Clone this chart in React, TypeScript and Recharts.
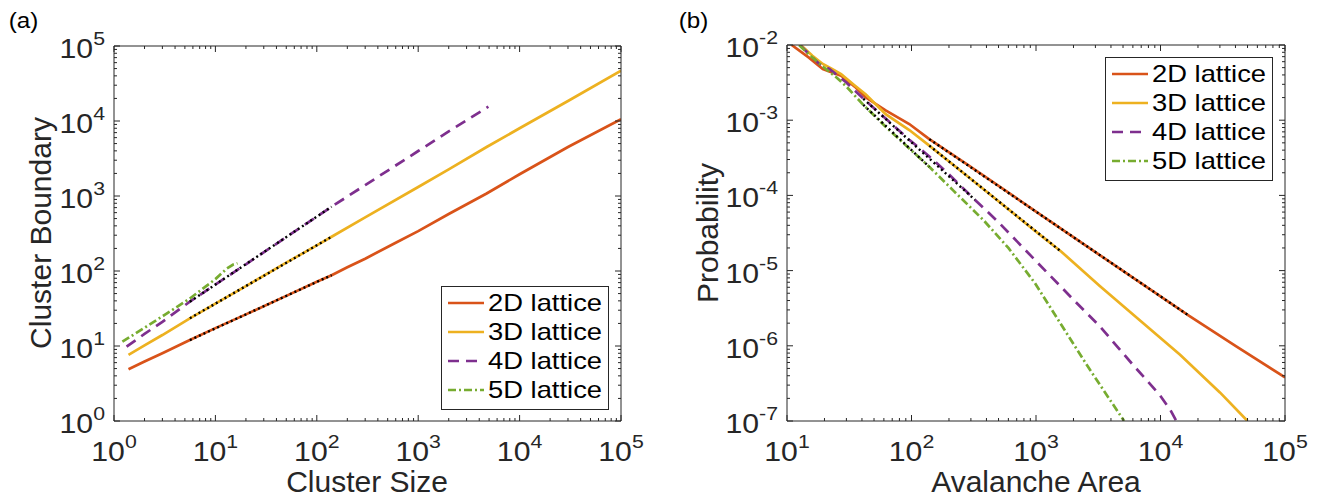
import { LineChart, Line, XAxis, YAxis, Legend } from "recharts";

const FONT = '"Liberation Sans", Arial, Helvetica, sans-serif';
const AXIS = "#262626";

const LABELS = ["2D lattice", "3D lattice", "4D lattice", "5D lattice"];
const COLORS = ["#D95319", "#EDB120", "#7E2F8E", "#77AC30"];
const DASHES = ["", "", "11 7", "8 3 2 3"];

// (a) cluster boundary vs cluster size
const sizes2D = [1.39, 2, 3, 5.6, 10, 20, 50, 100, 140, 200, 300, 600, 1000, 2000, 4730, 10000, 30000, 100000];
const boundary2D = [4.9, 6.2, 8.0, 12, 17.3, 26.4, 46.6, 72, 88, 112, 146, 238, 340, 575, 1080, 1950, 4500, 10600];
const sizes3D = [1.39, 2, 3, 5.6, 10, 20, 50, 100, 140, 300, 1000, 2000, 4730, 10000, 30000, 100000];
const boundary3D = [7.6, 10.2, 14, 23.4, 36.8, 63, 129, 220, 286, 518, 1320, 2270, 4500, 8000, 18500, 46800];
const sizes4D = [1.33, 2, 3, 5.6, 10, 20, 50, 100, 140, 300, 1000, 2000, 4920];
const boundary4D = [9.8, 14.5, 21, 39, 66, 123, 283, 530, 720, 1397, 3980, 7270, 15500];
const sizes5D = [1.21, 2, 3.16, 5.6, 10, 13, 15, 16.5];
const boundary5D = [11.4, 17.5, 26, 43, 78, 108, 122, 127];

// power-law fits (black dotted)
const fitSizesA = [5.6, 140];
const fit2DA = [12, 88];
const fit3DA = [23.4, 286];
const fit4DA = [39, 720];

// (b) avalanche area distribution
const area2D = [10.9, 15, 19.4, 23, 27.2, 35, 43, 62, 96, 139, 274, 1000, 3000, 10000, 17000, 40000, 100000];
const prob2D = [1e-2, 6.8e-3, 4.8e-3, 4.3e-3, 3.9e-3, 2.8e-3, 2.0e-3, 1.35e-3, 8.9e-4, 5.6e-4, 2.65e-4, 6.1e-5, 1.76e-5, 4.55e-6, 2.5e-6, 1.0e-6, 3.8e-7];
const area3D = [12.9, 16, 19.4, 23, 27.2, 35, 43, 62, 96, 139, 300, 1000, 1600, 3270, 7000, 14360, 30000, 50000];
const prob3D = [1e-2, 7.2e-3, 5.6e-3, 4.8e-3, 4.1e-3, 2.9e-3, 2.2e-3, 1.2e-3, 7.4e-4, 4.6e-4, 1.65e-4, 3.3e-5, 1.78e-5, 6.2e-6, 2.1e-6, 7.6e-7, 2.4e-7, 1e-7];
const area4D = [12.7, 15, 18.2, 21.9, 29.8, 43, 62, 96, 139, 200, 324, 500, 982, 2000, 3270, 6000, 9900, 12000, 13400];
const prob4D = [1e-2, 7.6e-3, 5.6e-3, 4.8e-3, 3.2e-3, 1.8e-3, 1.05e-3, 5.5e-4, 3.3e-4, 1.9e-4, 8.7e-5, 4.4e-5, 1.38e-5, 4.1e-6, 1.8e-6, 5.6e-7, 2.2e-7, 1.4e-7, 1e-7];
const area5D = [12.5, 15, 19.6, 25, 30, 41, 62, 96, 139, 218, 378, 600, 982, 1762, 2500, 3470, 5100];
const prob5D = [1e-2, 7.5e-3, 5.1e-3, 3.7e-3, 2.8e-3, 1.6e-3, 8.2e-4, 4.2e-4, 2.4e-4, 1.15e-4, 4.7e-5, 2.0e-5, 6.8e-6, 1.47e-6, 5.9e-7, 2.6e-7, 1e-7];

const fitArea2DB = [139, 17000];
const fit2DB = [5.6e-4, 2.5e-6];
const fitArea3DB = [139, 1600];
const fit3DB = [4.6e-4, 1.78e-5];
const fitArea4DB = [41, 324];
const fit4DB = [1.93e-3, 8.7e-5];
const fitArea5DB = [41, 139];
const fit5DB = [1.6e-3, 2.4e-4];

const TICKS_A = [1, 10, 100, 1000, 10000, 100000];
const TICKS_AREA = [10, 100, 1000, 10000, 100000];
const TICKS_PROB = [1e-7, 1e-6, 1e-5, 1e-4, 1e-3, 1e-2];

const pairs = (xs: number[], ys: number[]) => xs.map((x, i) => ({ x, y: ys[i] }));

function withMinor(majors: number[]) {
  const out: number[] = [];
  majors.forEach((m, i) => {
    out.push(m);
    if (i < majors.length - 1) for (let k = 2; k <= 9; k++) out.push(m * k);
  });
  return out;
}

// "10" with superscript exponent, slightly widened like the source figure
function PowerLabel({ x, y, p, anchor }: { x: number; y: number; p: number; anchor: string }) {
  return (
    <g transform={`translate(${x},${y}) scale(1.12,1)`}>
      <text x={0} y={0} textAnchor={anchor} fontSize={27} fill={AXIS} fontFamily={FONT}>
        10<tspan dy={-13} fontSize={19}>{p}</tspan>
      </text>
    </g>
  );
}

function makeTick(side: string, showLabel: boolean) {
  return function Tick(props: any) {
    const { x, y, payload } = props;
    const v = Number(payload.value);
    const p = Math.round(Math.log10(v));
    const major = Math.abs(Math.log10(v) - p) < 1e-6;
    const len = major ? 6 : 3;
    let line;
    if (side === "bottom") line = <line x1={x} x2={x} y1={y} y2={y - len} />;
    else if (side === "top") line = <line x1={x} x2={x} y1={y} y2={y + len} />;
    else if (side === "left") line = <line x1={x} x2={x + len} y1={y} y2={y} />;
    else line = <line x1={x} x2={x - len} y1={y} y2={y} />;
    let label = null;
    if (showLabel && major) {
      label =
        side === "bottom" ? (
          <PowerLabel x={x} y={y + 40} p={p} anchor="middle" />
        ) : (
          <PowerLabel x={x - 9} y={y + 12} p={p} anchor="end" />
        );
    }
    return (
      <g>
        <g stroke={AXIS} strokeWidth={1}>{line}</g>
        {label}
      </g>
    );
  };
}

function LatticeLegend() {
  return (
    <div
      style={{
        border: `1px solid ${AXIS}`,
        background: "#fff",
        padding: "1px 0 5px 6px",
        width: 160,
        fontFamily: FONT,
      }}
    >
      {LABELS.map((name, i) => (
        <div key={name} style={{ display: "flex", alignItems: "center", height: 29 }}>
          <svg width={36} height={10}>
            <line x1={0} x2={36} y1={5} y2={5} stroke={COLORS[i]} strokeWidth={2.7} strokeDasharray={DASHES[i] || undefined} />
          </svg>
          <span
            style={{
              display: "inline-block",
              fontSize: 24,
              marginLeft: 4,
              color: "#000",
              lineHeight: "29px",
              transform: "scaleX(1.14)",
              transformOrigin: "left center",
              whiteSpace: "nowrap",
            }}
          >
            {name}
          </span>
        </div>
      ))}
    </div>
  );
}

function axes(xTicks: number[], xDomain: number[], yTicks: number[], yDomain: number[]) {
  const xt = withMinor(xTicks);
  const yt = withMinor(yTicks);
  const common = { type: "number" as const, scale: "log" as const, allowDataOverflow: true, interval: 0 as const, tickLine: false, tickSize: 0, tickMargin: 0, axisLine: { stroke: AXIS, strokeWidth: 1 } };
  return [
    <XAxis key="xb" dataKey="x" domain={xDomain} ticks={xt} tick={makeTick("bottom", true)} height={1} {...common} />,
    <XAxis key="xt" xAxisId="top" orientation="top" dataKey="x" domain={xDomain} ticks={xt} tick={makeTick("top", false)} height={1} {...common} />,
    <YAxis key="yl" dataKey="y" domain={yDomain} ticks={yt} tick={makeTick("left", true)} width={1} {...common} />,
    <YAxis key="yr" yAxisId="right" orientation="right" dataKey="y" domain={yDomain} ticks={yt} tick={makeTick("right", false)} width={1} {...common} />,
  ];
}

const fitStyle = { stroke: "#000", strokeWidth: 2.4, strokeDasharray: "2 3", dot: false, isAnimationActive: false, legendType: "none" as const };

export default function App() {
  const seriesA = [pairs(sizes2D, boundary2D), pairs(sizes3D, boundary3D), pairs(sizes4D, boundary4D), pairs(sizes5D, boundary5D)];
  const seriesB = [pairs(area2D, prob2D), pairs(area3D, prob3D), pairs(area4D, prob4D), pairs(area5D, prob5D)];
  return (
    <div style={{ position: "absolute", left: 0, top: 0, width: 1317, height: 497, background: "#fff", fontFamily: FONT }}>
      <div style={{ position: "absolute", left: 0, top: 0 }}>
        <LineChart width={660} height={497} margin={{ top: 45, right: 38, bottom: 75, left: 113 }}>
          {axes(TICKS_A, [1, 100000], TICKS_A, [1, 100000])}
          {seriesA.map((d, i) => (
            <Line key={LABELS[i]} data={d} dataKey="y" name={LABELS[i]} type="linear" stroke={COLORS[i]} strokeWidth={2.7} strokeDasharray={DASHES[i] || undefined} dot={false} isAnimationActive={false} />
          ))}
          <Line data={pairs(fitSizesA, fit2DA)} dataKey="y" {...fitStyle} />
          <Line data={pairs(fitSizesA, fit3DA)} dataKey="y" {...fitStyle} />
          <Line data={pairs(fitSizesA, fit4DA)} dataKey="y" {...fitStyle} />
          <Legend layout="vertical" align="center" verticalAlign="middle" content={<LatticeLegend />} wrapperStyle={{ left: 441, top: 286, width: 168 }} />
        </LineChart>
      </div>
      <div style={{ position: "absolute", left: 660, top: 0 }}>
        <LineChart width={657} height={497} margin={{ top: 44, right: 31, bottom: 75, left: 126 }}>
          {axes(TICKS_AREA, [10, 100000], TICKS_PROB, [1e-7, 1e-2])}
          {seriesB.map((d, i) => (
            <Line key={LABELS[i]} data={d} dataKey="y" name={LABELS[i]} type="linear" stroke={COLORS[i]} strokeWidth={2.7} strokeDasharray={DASHES[i] || undefined} dot={false} isAnimationActive={false} />
          ))}
          <Line data={pairs(fitArea2DB, fit2DB)} dataKey="y" {...fitStyle} />
          <Line data={pairs(fitArea3DB, fit3DB)} dataKey="y" {...fitStyle} />
          <Line data={pairs(fitArea4DB, fit4DB)} dataKey="y" {...fitStyle} />
          <Line data={pairs(fitArea5DB, fit5DB)} dataKey="y" {...fitStyle} />
          <Legend layout="vertical" align="center" verticalAlign="middle" content={<LatticeLegend />} wrapperStyle={{ left: 445, top: 57, width: 168 }} />
        </LineChart>
      </div>
      <svg width={1317} height={497} style={{ position: "absolute", left: 0, top: 0, pointerEvents: "none" }} fontFamily={FONT} fill="#000">
        <text x={8} y={28} fontSize={22} transform="scale(1.1,1)">(a)</text>
        <text x={617} y={28} fontSize={22} transform="scale(1.1,1)">(b)</text>
        <text x={367} y={492} fontSize={30} textAnchor="middle" fill={AXIS}>Cluster Size</text>
        <text x={1036} y={492} fontSize={30} textAnchor="middle" fill={AXIS}>Avalanche Area</text>
        <text transform="translate(51,233) rotate(-90)" fontSize={30} textAnchor="middle" fill={AXIS}>Cluster Boundary</text>
        <text transform="translate(718,233) rotate(-90)" fontSize={30} textAnchor="middle" fill={AXIS}>Probability</text>
      </svg>
    </div>
  );
}
